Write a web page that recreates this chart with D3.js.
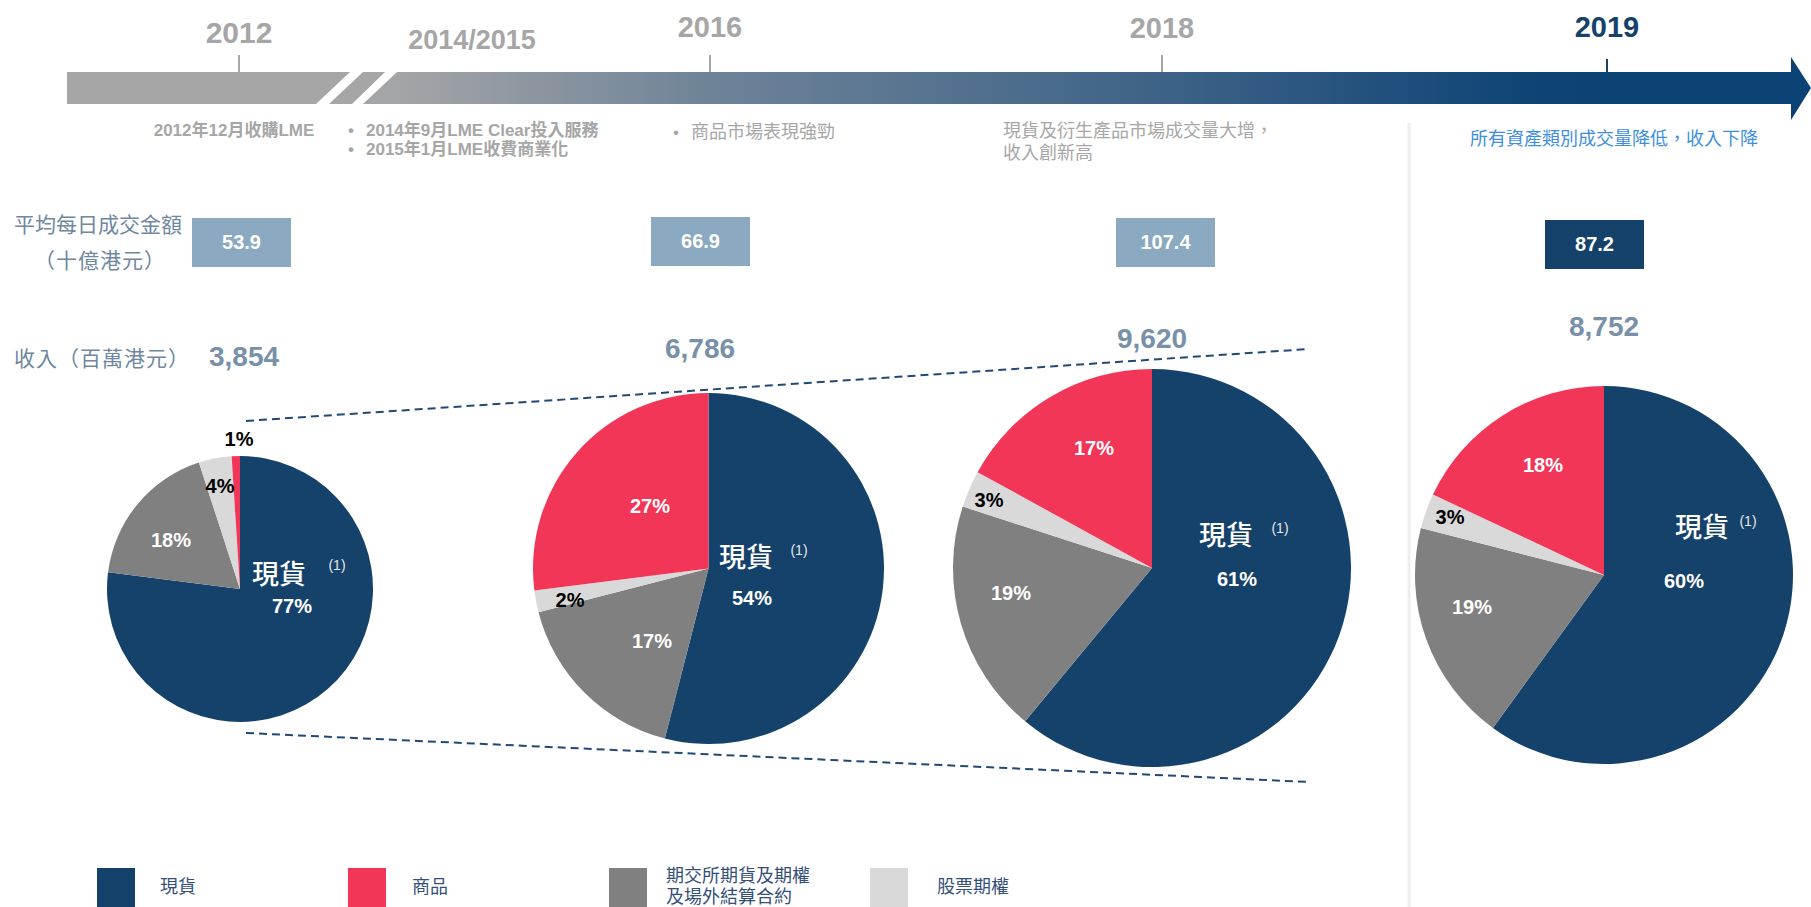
<!DOCTYPE html>
<html><head><meta charset="utf-8">
<script src="https://cdn.jsdelivr.net/npm/d3@7"></script>
<style>
body{margin:0;background:#fff;}
svg{display:block;font-family:"Liberation Sans",Arial,"Noto Sans CJK TC",sans-serif;}
</style></head><body><svg id="c" width="1811" height="907"></svg>
<script>
// ---------------- data ----------------
const pieYears = ["2012", "2016", "2018", "2019"];
const categories = ["現貨", "期交所期貨及期權及場外結算合約", "股票期權", "商品"];
const spotShare = [77, 54, 61, 60];
const exchangeShare = [18, 17, 19, 19];
const stockShare = [4, 2, 3, 3];
const commodityShare = [1, 27, 17, 18];
const adtValues = [53.9, 66.9, 107.4, 87.2];
const revenueValues = [3854, 6786, 9620, 8752];
const timelineYears = ["2012", "2014/2015", "2016", "2018", "2019"];
const legendOrder = [0, 3, 1, 2];
const legendLabels = [["現貨"], ["商品"], ["期交所期貨及期權", "及場外結算合約"], ["股票期權"]];

// ---------------- layout / style ----------------
const catColors = ["#15426B", "#808080", "#D9D9D9", "#F23658"];
const pieLayout = [
  {cx: 240, cy: 589, r: 133, spot: [39, -5], note: [97, -24], pct: [52, 24], others: [[-69, -42], [-20, -96], [-1, -143]]},
  {cx: 708.5, cy: 568.5, r: 175.5, spot: [37.5, -1.5], note: [90.5, -18.5], pct: [43.5, 36.5], others: [[-56.5, 79.5], [-138.5, 38.5], [-58.5, -55.5]]},
  {cx: 1152, cy: 568, r: 199, spot: [74, -23], note: [128, -40], pct: [85, 18], others: [[-141, 32], [-163, -61], [-58, -113]]},
  {cx: 1604, cy: 575, r: 189, spot: [98, -38], note: [144, -54], pct: [80, 13], others: [[-132, 39], [-154, -51], [-61, -103]]}
];
const boxLayout = [
  {x: 192, y: 218, fill: "#8BA9C1"},
  {x: 651, y: 217, fill: "#8BA9C1"},
  {x: 1116, y: 218, fill: "#8BA9C1"},
  {x: 1545, y: 220, fill: "#15426B"}
];
const revLayout = [[244, 366], [700, 358], [1152, 348], [1604, 336]];
const yearLayout = [
  {x: 239, y: 43, size: 30, fill: "#A6A6A6", tick: true},
  {x: 472, y: 49, size: 27, fill: "#A6A6A6", tick: false},
  {x: 710, y: 37, size: 29, fill: "#A6A6A6", tick: true},
  {x: 1162, y: 38, size: 29, fill: "#A6A6A6", tick: true},
  {x: 1607, y: 37, size: 29, fill: "#15426B", tick: true}
];

const svg = d3.select("#c");
const defs = svg.append("defs");

// ---------------- timeline ----------------
const grad = defs.append("linearGradient").attr("id", "tl").attr("gradientUnits", "userSpaceOnUse")
  .attr("x1", 397).attr("x2", 1700).attr("y1", 0).attr("y2", 0);
[[0, "#A4A5A7"], [0.24, "#6E8398"], [0.58, "#3E6387"], [0.88, "#0D4375"], [1, "#0A4274"]]
  .forEach(s => grad.append("stop").attr("offset", s[0]).attr("stop-color", s[1]));

const barTop = 72, barBot = 104;
const tl = svg.append("g");
tl.append("path").attr("fill", "#A6A6A6")
  .attr("d", d3.line()([[67, barTop], [350, barTop], [316, barBot], [67, barBot]]) + "Z");
tl.append("path").attr("fill", "#A6A6A6")
  .attr("d", d3.line()([[363, barTop], [385, barTop], [352, barBot], [329, barBot]]) + "Z");
tl.append("path").attr("fill", "url(#tl)")
  .attr("d", d3.line()([[397, barTop], [1791, barTop], [1791, 57], [1811, 88], [1791, 120], [1791, barBot], [363, barBot]]) + "Z");

// year labels + ticks
timelineYears.forEach((y, i) => {
  const L = yearLayout[i];
  svg.append("text").attr("x", L.x).attr("y", L.y).attr("text-anchor", "middle")
    .attr("font-size", L.size).attr("font-weight", "bold").attr("fill", L.fill).text(y);
  if (L.tick) {
    svg.append("line").attr("x1", L.x).attr("x2", L.x).attr("y1", i === 4 ? 59 : 55).attr("y2", barTop)
      .attr("stroke", i === 4 ? "#15426B" : "#A6A6A6").attr("stroke-width", 2);
  }
});

// annotations
function ann(x, y, txt, opts) {
  const t = svg.append("text").attr("x", x).attr("y", y).attr("font-size", opts.size || 17)
    .attr("fill", opts.fill || "#A6A6A6").attr("font-weight", opts.bold ? "bold" : "normal")
    .attr("text-anchor", opts.anchor || "start").text(txt);
  if (opts.ls) t.attr("letter-spacing", opts.ls);
  return t;
}
ann(234, 136, "2012年12月收購LME", {bold: true, anchor: "middle"});
ann(348, 136, "•", {bold: true});
ann(366, 136, "2014年9月LME Clear投入服務", {bold: true});
ann(348, 155, "•", {bold: true});
ann(366, 155, "2015年1月LME收費商業化", {bold: true});
ann(673, 138, "•", {});
ann(691, 138, "商品市場表現強勁", {size: 18});
ann(1003, 137, "現貨及衍生產品市場成交量大增，", {size: 18});
ann(1003, 159, "收入創新高", {size: 18});
ann(1614, 145, "所有資產類別成交量降低，收入下降", {size: 18, fill: "#3E8EDE", anchor: "middle"});

// separator
svg.append("line").attr("x1", 1409).attr("x2", 1409).attr("y1", 123).attr("y2", 907)
  .attr("stroke", "#EEEEEE").attr("stroke-width", 3);

// left labels
ann(98, 232, "平均每日成交金額", {size: 21, fill: "#6F87A0", anchor: "middle"});
ann(100, 268, "（十億港元）", {size: 21, fill: "#6F87A0", anchor: "middle", ls: 1});
ann(14, 366, "收入（百萬港元）", {size: 21, fill: "#6F87A0", ls: 1});

// ADT boxes
const fmt1 = d3.format(".1f");
adtValues.forEach((v, i) => {
  const B = boxLayout[i];
  svg.append("rect").attr("x", B.x).attr("y", B.y).attr("width", 99).attr("height", 49).attr("fill", B.fill);
  svg.append("text").attr("x", B.x + 49.5).attr("y", B.y + 31).attr("text-anchor", "middle")
    .attr("font-size", 20).attr("font-weight", "bold").attr("fill", "#fff").text(fmt1(v));
});

// revenue
const fmtC = d3.format(",");
revenueValues.forEach((v, i) => {
  svg.append("text").attr("x", revLayout[i][0]).attr("y", revLayout[i][1]).attr("text-anchor", "middle")
    .attr("font-size", 28).attr("font-weight", "bold").attr("fill", "#7890A8").text(fmtC(v));
});

// dashed connectors
const dashG = svg.append("g").attr("stroke", "#1F4A75").attr("stroke-width", 2).attr("stroke-dasharray", "8,5").attr("fill", "none");
dashG.append("path").attr("d", d3.line()([[246, 421], [1309, 349]]));
dashG.append("path").attr("d", d3.line()([[246, 733], [1309, 782]]));

// ---------------- pies ----------------
const pie = d3.pie().sort(null).value(d => d.v);
pieYears.forEach((yr, i) => {
  const L = pieLayout[i];
  const vals = [spotShare[i], exchangeShare[i], stockShare[i], commodityShare[i]];
  const data = vals.map((v, k) => ({v, k}));
  const arcs = pie(data);
  const arc = d3.arc().innerRadius(0).outerRadius(L.r);
  const g = svg.append("g").attr("transform", `translate(${L.cx},${L.cy})`);
  g.selectAll("path").data(arcs).join("path").attr("d", arc).attr("fill", d => catColors[d.data.k]);
  g.append("text").attr("x", L.spot[0]).attr("y", L.spot[1]).attr("text-anchor", "middle")
    .attr("font-size", 27).attr("font-weight", 500).attr("fill", "#fff").text(categories[0]);
  g.append("text").attr("x", L.note[0]).attr("y", L.note[1]).attr("dy", "0.35em").attr("text-anchor", "middle")
    .attr("font-size", 14).attr("fill", "#E8E8E8").text("(1)");
  g.append("text").attr("x", L.pct[0]).attr("y", L.pct[1]).attr("text-anchor", "middle")
    .attr("font-size", 20).attr("font-weight", "bold").attr("fill", "#fff").text(vals[0] + "%");
  [1, 2, 3].forEach((k, j) => {
    const p = L.others[j];
    const dark = k === 2 || vals[k] < 5;
    g.append("text").attr("x", p[0]).attr("y", p[1]).attr("text-anchor", "middle")
      .attr("font-size", 20).attr("font-weight", "bold").attr("fill", dark ? "#000" : "#fff").text(vals[k] + "%");
  });
});

// ---------------- legend ----------------
const legX = [[97, 160], [348, 412], [609, 666], [870, 937]];
legendOrder.forEach((k, i) => {
  svg.append("rect").attr("x", legX[i][0]).attr("y", 868).attr("width", 38).attr("height", 39).attr("fill", catColors[k]);
  const lines = legendLabels[i];
  lines.forEach((ln, j) => {
    const y = lines.length === 1 ? 893 : 882 + j * 21;
    svg.append("text").attr("x", legX[i][1]).attr("y", y).attr("font-size", 18).attr("fill", "#34507A").text(ln);
  });
});
</script></body></html>
